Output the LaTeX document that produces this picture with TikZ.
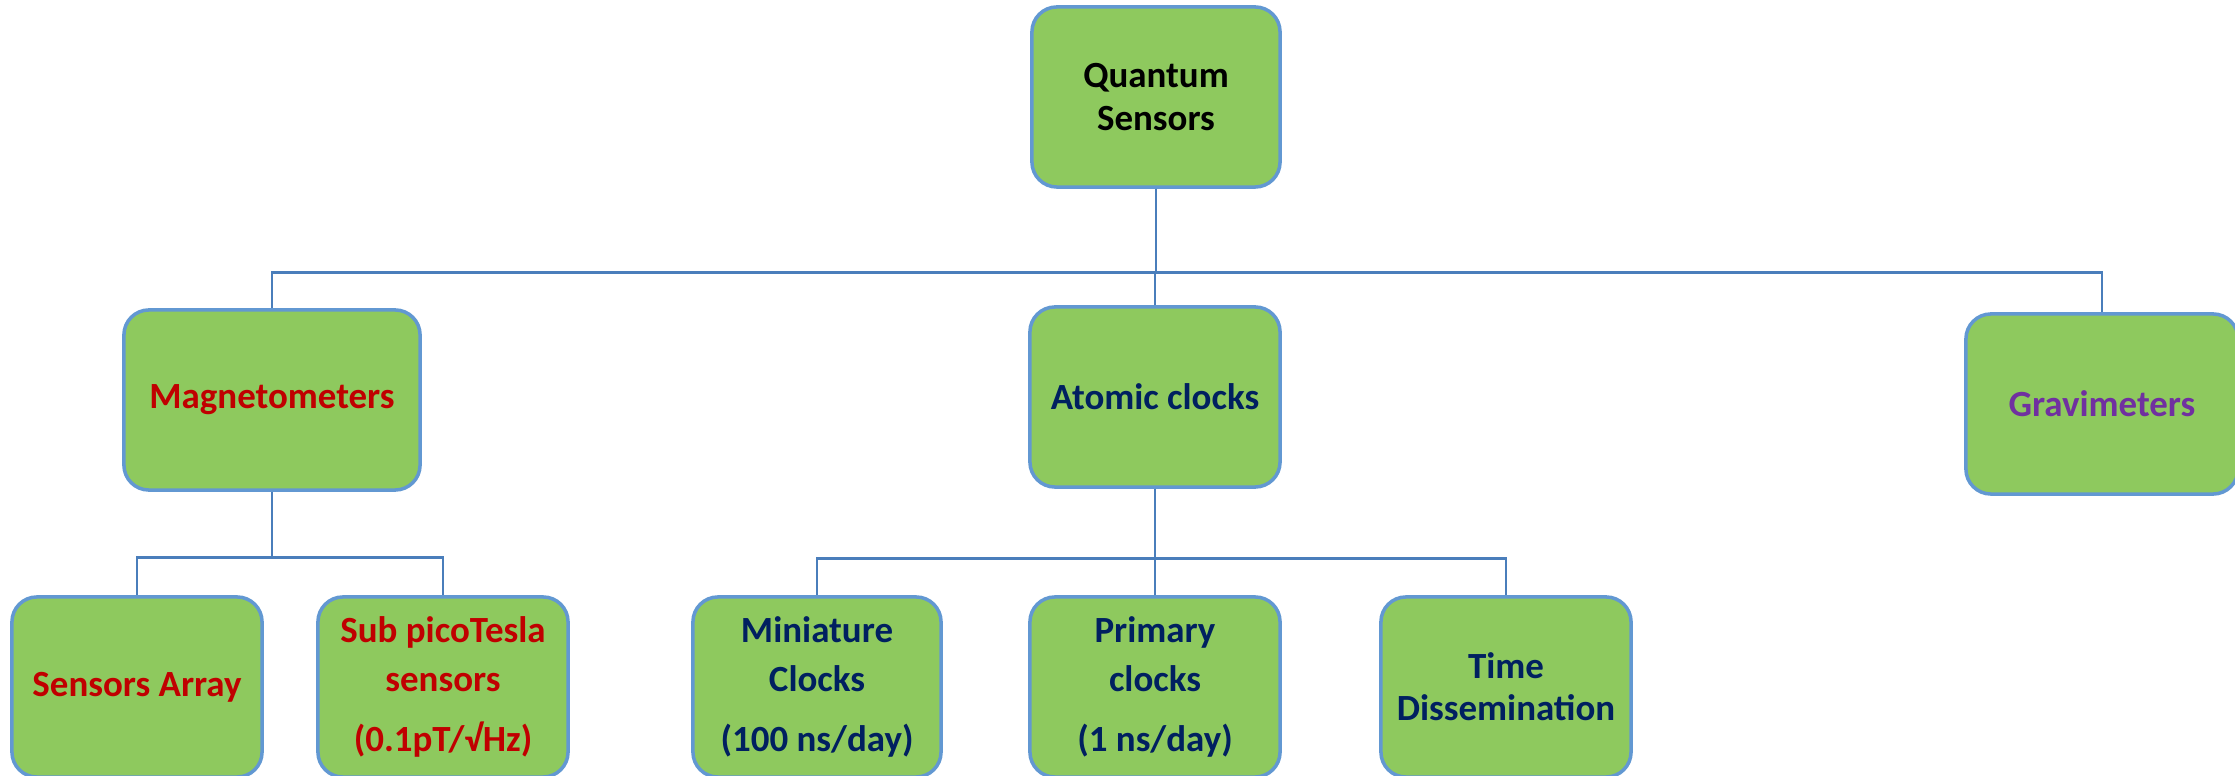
\documentclass[tikz,border=0pt]{standalone}
\usepackage{fontspec}
\setmainfont{Carlito}
\usepackage{tikz}

\definecolor{boxgreen}{RGB}{142,201,94}
\definecolor{boxedge}{RGB}{98,152,210}
\definecolor{linkblue}{RGB}{74,126,187}
\definecolor{magred}{RGB}{192,0,0}
\definecolor{clocknavy}{RGB}{0,32,96}
\definecolor{gravpurple}{RGB}{112,48,160}

\tikzset{
  sensor/.style={draw=boxedge, fill=boxgreen, line width=1pt,
    rounded corners=0.25cm, align=center, inner sep=0pt,
    minimum width=2.5cm, minimum height=1.8cm,
    font=\bfseries\fontsize{10.5}{12}\selectfont},
  link/.style={draw=linkblue, line width=0.75pt}
}

\begin{document}
\begin{tikzpicture}[x=0.01cm,y=-0.01cm]
\useasboundingbox (0,0) rectangle (2235,776);

% top level
\node[sensor, minimum width=2.48cm] (qs) at (1156,97) {Quantum\\Sensors};

% second row
\node[sensor, minimum width=2.96cm, text=magred] (mag) at (272,400) {Magnetometers};
\node[sensor, text=clocknavy] (atom) at (1155,397) {Atomic clocks};
\node[sensor, minimum width=2.72cm, text=gravpurple] (grav) at (2102,404) {Gravimeters};

% third row
\node[sensor, text=magred] (arr) at (137,687) {Sensors Array};
\node[sensor, text=magred] (pico) at (443,687) {Sub picoTesla\\[2pt]sensors\\[5pt](0.1pT/√Hz)};
\node[sensor, minimum width=2.48cm, text=clocknavy] (mini) at (817,687) {Miniature\\[2pt]Clocks\\[5pt](100 ns/day)};
\node[sensor, text=clocknavy] (prim) at (1155,687) {Primary\\[2pt]clocks\\[5pt](1 ns/day)};
\node[sensor, text=clocknavy] (dissem) at (1506,687) {Time\\Dissemination};

\foreach \n in {mag,atom,grav}
  \draw[link] (qs.south) -- ++(0,84) -| (\n.north);
\foreach \n in {arr,pico}
  \draw[link] (mag.south) -- ++(0,66) -| (\n.north);
\foreach \n in {mini,prim,dissem}
  \draw[link] (atom.south) -- ++(0,70) -| (\n.north);
\end{tikzpicture}
\end{document}
